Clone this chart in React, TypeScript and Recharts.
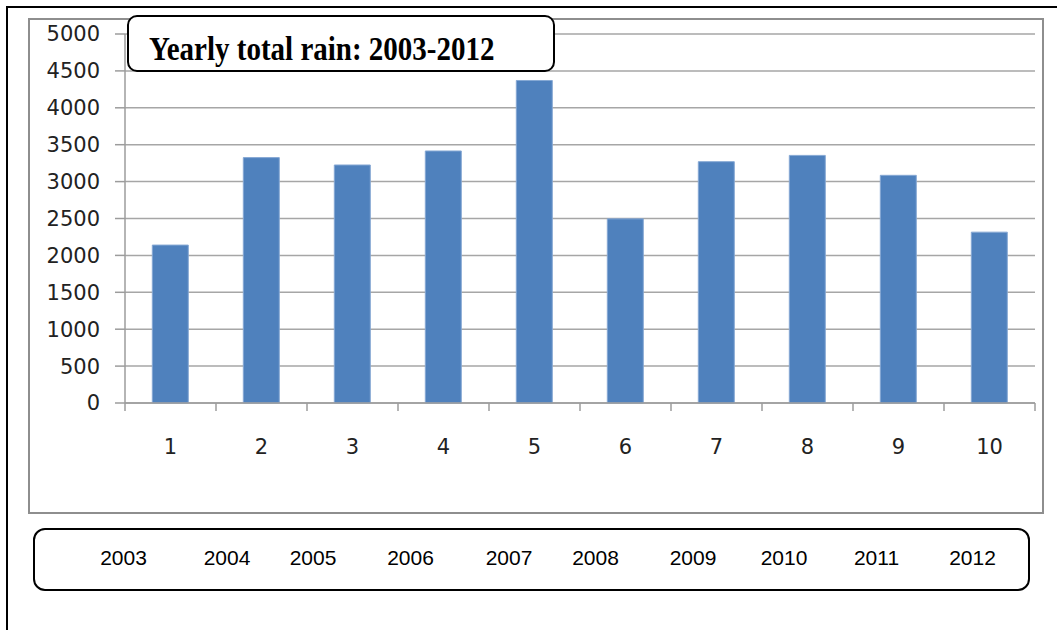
import React from 'react';
import { BarChart, Bar, XAxis, YAxis, CartesianGrid } from 'recharts';

// Category labels shown under the bars
const categories = ['1', '2', '3', '4', '5', '6', '7', '8', '9', '10'];
// Yearly total rain (mm), one value per category
const rainfall = [2140, 3325, 3225, 3415, 4370, 2495, 3270, 3355, 3085, 2315];
// Years listed in the caption box below the chart
const years = ['2003', '2004', '2005', '2006', '2007', '2008', '2009', '2010', '2011', '2012'];
// Value axis ticks
const yTicks = [0, 500, 1000, 1500, 2000, 2500, 3000, 3500, 4000, 4500, 5000];
const title = 'Yearly total rain: 2003-2012';

// Horizontal centres of the year captions (layout only)
const yearCenters = [123.5, 227, 313, 410.5, 509, 595.5, 693, 784, 876.5, 972.5];

const data = categories.map((label, i) => ({ label, rain: rainfall[i] }));

const CHART_W = 1057;
const CHART_H = 630;
const MARGIN = { top: 34, right: 22, bottom: 177, left: 65 };
const Y_AXIS_W = 60;
const TICK_MARGIN = 36;
const MARK_LEN = 8;
const BAND = (CHART_W - MARGIN.left - MARGIN.right - Y_AXIS_W) / categories.length;

const GRID = '#A6A6A6';
const AXIS = '#9C9C9C';

// Category label with the small divider marks that sit between categories
function CategoryTick(props: any) {
  const { x, y, payload, index } = props;
  const axisY = y - TICK_MARGIN;
  const left = x - BAND / 2;
  const right = x + BAND / 2;
  return (
    <g>
      <line x1={left} x2={left} y1={axisY} y2={axisY + MARK_LEN} stroke={AXIS} strokeWidth={1.5} />
      {index === categories.length - 1 && (
        <line x1={right} x2={right} y1={axisY} y2={axisY + MARK_LEN} stroke={AXIS} strokeWidth={1.5} />
      )}
      <text
        x={x}
        y={y}
        dy="0.71em"
        textAnchor="middle"
        fill="#222"
        fontSize={21}
        fontFamily="DejaVu Sans"
      >
        {payload.value}
      </text>
    </g>
  );
}

export default function App() {
  return (
    <div
      style={{
        position: 'absolute',
        left: 0,
        top: 0,
        width: CHART_W,
        height: CHART_H,
        overflow: 'hidden',
        background: '#fff',
      }}
    >
      {/* outer page frame */}
      <div
        style={{
          position: 'absolute',
          left: 6,
          top: 6,
          width: 1200,
          height: 800,
          borderTop: '2px solid #000',
          borderLeft: '2px solid #000',
        }}
      />
      {/* chart area frame */}
      <div
        style={{
          position: 'absolute',
          left: 28,
          top: 18,
          width: 1016,
          height: 496,
          boxSizing: 'border-box',
          border: '2px solid #8E8E8E',
        }}
      />
      <div style={{ position: 'absolute', left: 0, top: 0 }}>
        <BarChart
          width={CHART_W}
          height={CHART_H}
          data={data}
          margin={MARGIN}
          barCategoryGap="30%"
        >
          <CartesianGrid vertical={false} stroke={GRID} strokeWidth={1.5} />
          <XAxis
            dataKey="label"
            type="category"
            height={50}
            interval={0}
            axisLine={{ stroke: AXIS, strokeWidth: 1.5 }}
            tickLine={false}
            tickSize={0}
            tickMargin={TICK_MARGIN}
            tick={<CategoryTick />}
          />
          <YAxis
            domain={[0, 5000]}
            ticks={yTicks}
            width={Y_AXIS_W}
            tickSize={10}
            tickMargin={15}
            axisLine={{ stroke: AXIS, strokeWidth: 1.5 }}
            tickLine={{ stroke: AXIS, strokeWidth: 1.5 }}
            tick={{ fill: '#222', fontSize: 21, fontFamily: 'DejaVu Sans' }}
          />
          <Bar
            dataKey="rain"
            fill="#4F81BD"
            stroke="#86A8D4"
            strokeWidth={1}
            isAnimationActive={false}
          />
        </BarChart>
      </div>
      {/* title box */}
      <div
        style={{
          position: 'absolute',
          left: 127,
          top: 15,
          width: 428,
          height: 57,
          boxSizing: 'border-box',
          border: '2px solid #000',
          borderRadius: 10,
          background: '#fff',
        }}
      />
      <div
        style={{
          position: 'absolute',
          left: 149,
          top: 36,
          fontFamily: 'Liberation Serif',
          fontWeight: 'bold',
          fontSize: 29,
          lineHeight: 1,
          whiteSpace: 'nowrap',
          color: '#000',
          transform: 'scaleY(1.15)',
          transformOrigin: '0 24px',
        }}
      >
        {title}
      </div>
      {/* year caption box */}
      <div
        style={{
          position: 'absolute',
          left: 33,
          top: 528,
          width: 997,
          height: 63,
          boxSizing: 'border-box',
          border: '2px solid #000',
          borderRadius: 12,
          background: '#fff',
        }}
      />
      {years.map((y, i) => (
        <div
          key={y}
          style={{
            position: 'absolute',
            left: yearCenters[i],
            top: 547,
            transform: 'translateX(-50%)',
            fontFamily: 'Liberation Sans',
            fontSize: 21,
            lineHeight: 1,
            whiteSpace: 'nowrap',
            color: '#000',
          }}
        >
          {y}
        </div>
      ))}
    </div>
  );
}
